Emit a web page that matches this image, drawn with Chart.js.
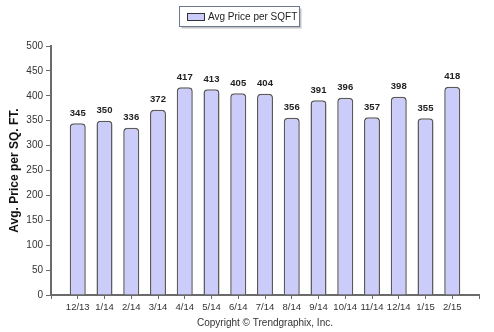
<!DOCTYPE html>
<html>
<head>
<meta charset="utf-8">
<script src="https://cdn.jsdelivr.net/npm/chart.js@4/dist/chart.umd.min.js"></script>
<style>
	html, body { margin: 0; padding: 0; background: #ffffff; }
	#wrap { width: 494px; height: 332px; position: relative; }
</style>
</head>
<body>
<div id="wrap"><canvas id="chart" width="494" height="332"></canvas></div>
<script>
const months = ["12/13", "1/14", "2/14", "3/14", "4/14", "5/14", "6/14", "7/14", "8/14", "9/14", "10/14", "11/14", "12/14", "1/15", "2/15"]
const avgPrice = [345, 350, 336, 372, 417, 413, 405, 404, 356, 391, 396, 357, 398, 355, 418]
const seriesName = "Avg Price per SQFT"
const yTitle = "Avg. Price per SQ. FT."
const copyright = "Copyright \u00A9 Trendgraphix, Inc."

// one empty slot on each side, like the original axis
const labels = [""].concat(months, [""])
const values = [null].concat(avgPrice, [null])

const fontFamily = "'Liberation Sans', Arial, sans-serif"
const barFill = "#ccccfa"
const barEdge = "#5a5a5a"
const axisColor = "#6a6a6a"

Chart.defaults.font.family = fontFamily
Chart.defaults.color = "#333333"

// values above the bars
const valueLabels = {
	id: "valueLabels",
	afterDatasetsDraw(chart) {
		let ctx = chart.ctx
		let meta = chart.getDatasetMeta(0)
		ctx.save()
		ctx.font = "bold 9.5px " + fontFamily
		ctx.fillStyle = "#222222"
		ctx.textAlign = "center"
		ctx.textBaseline = "middle"
		meta.data.forEach((bar, i) => {
			let v = chart.data.datasets[0].data[i]
			if(v === null) return
			ctx.fillText(v, bar.x, bar.y - 10)
		})
		ctx.restore()
	}
}

// framed legend box at the top
const framedLegend = {
	id: "framedLegend",
	afterDraw(chart) {
		let ctx = chart.ctx
		ctx.save()
		let x = 179.5, y = 6.5, w = 120, h = 20
		ctx.fillStyle = "#c4c4c4"
		ctx.fillRect(x + 2, y + 2, w, h)
		ctx.fillStyle = "#ffffff"
		ctx.fillRect(x, y, w, h)
		ctx.strokeStyle = "#6b7890"
		ctx.lineWidth = 1
		ctx.strokeRect(x, y, w, h)
		ctx.fillStyle = barFill
		ctx.fillRect(187.5, 13.5, 17, 7)
		ctx.strokeStyle = "#333333"
		ctx.strokeRect(187.5, 13.5, 17, 7)
		ctx.font = "10px " + fontFamily
		ctx.fillStyle = "#222222"
		ctx.textBaseline = "middle"
		ctx.textAlign = "left"
		ctx.fillText(seriesName, 208, 17)
		ctx.restore()
	}
}

const canvas = document.getElementById("chart")

let chart = new Chart(canvas, {
	type: "bar",
	data: {
		labels: labels,
		datasets: [{
			label: seriesName,
			data: values,
			backgroundColor: barFill,
			borderColor: barEdge,
			borderWidth: 1.5,
			borderSkipped: "bottom",
			borderRadius: { topLeft: 4, topRight: 4, bottomLeft: 0, bottomRight: 0 },
			barPercentage: 0.6,
			categoryPercentage: 1
		}]
	},
	options: {
		responsive: false,
		animation: false,
		layout: { padding: { top: 46, right: 15, bottom: 0, left: 0 } },
		plugins: {
			legend: { display: false },
			tooltip: { enabled: false }
		},
		scales: {
			x: {
				offset: false,
				grid: { display: true, offset: false, drawOnChartArea: false, drawTicks: true, tickLength: 4, color: axisColor, lineWidth: 1 },
				border: { display: true, color: axisColor, width: 2 },
				ticks: { autoSkip: false, maxRotation: 0, padding: 3, font: { size: 9.5 }, color: "#333333" },
				title: { display: true, text: copyright, font: { size: 10 }, color: "#333333", padding: { top: 0, bottom: 3 } },
				afterFit: (scale) => { scale.height = 37 }
			},
			y: {
				min: 0,
				max: 500,
				grid: { display: true, drawOnChartArea: false, drawTicks: true, tickLength: 5, color: axisColor, lineWidth: 1 },
				border: { display: true, color: axisColor, width: 2 },
				ticks: { stepSize: 50, padding: 3, font: { size: 10 }, color: "#333333" },
				title: { display: true, text: yTitle, font: { size: 12, weight: "bold" }, color: "#111111", padding: { top: 7, bottom: 0 } },
				afterFit: (scale) => { scale.width = 51 }
			}
		}
	},
	plugins: [valueLabels, framedLegend]
})
</script>
</body>
</html>
